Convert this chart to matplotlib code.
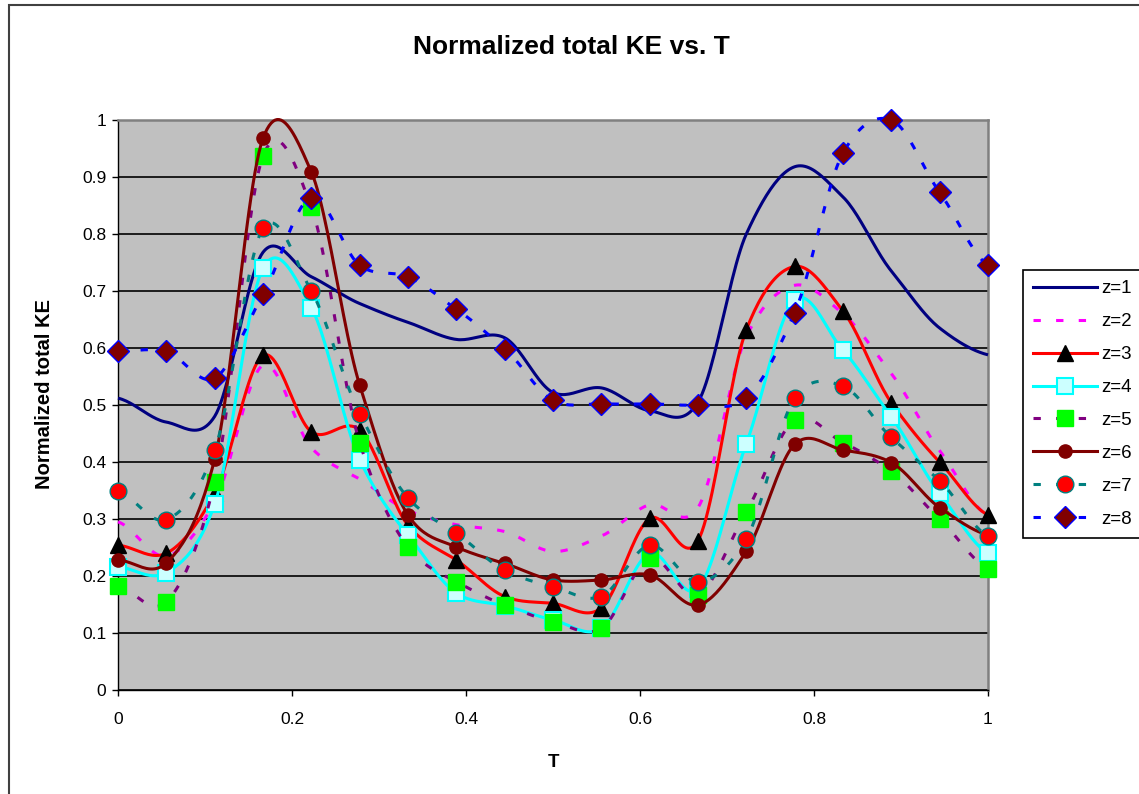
import numpy as np
import matplotlib
matplotlib.use("Agg")
import matplotlib.pyplot as plt
from matplotlib.lines import Line2D
from matplotlib.patches import Rectangle

plt.rcParams['font.family'] = ['Liberation Sans', 'DejaVu Sans']

# sample times (T) and normalized total KE for each z level
t = [0.0, 0.0556, 0.1111, 0.1667, 0.2222, 0.2778, 0.3333, 0.3889, 0.4444, 0.5,
     0.5556, 0.6111, 0.6667, 0.7222, 0.7778, 0.8333, 0.8889, 0.9444, 1.0]

z1 = [0.512, 0.47, 0.48, 0.768, 0.725, 0.678, 0.645, 0.615, 0.618, 0.522,
      0.53, 0.49, 0.505, 0.80, 0.918, 0.865, 0.735, 0.635, 0.588]
z2 = [0.295, 0.235, 0.33, 0.57, 0.425, 0.37, 0.315, 0.29, 0.278, 0.243,
      0.27, 0.325, 0.32, 0.62, 0.71, 0.66, 0.555, 0.42, 0.305]
z3 = [0.254, 0.24, 0.345, 0.587, 0.453, 0.456, 0.289, 0.228, 0.164, 0.152,
      0.144, 0.301, 0.262, 0.632, 0.743, 0.665, 0.504, 0.40, 0.307]
z4 = [0.216, 0.206, 0.326, 0.74, 0.671, 0.404, 0.272, 0.17, 0.148, 0.123,
      0.108, 0.24, 0.178, 0.432, 0.684, 0.596, 0.479, 0.345, 0.24]
z5 = [0.182, 0.155, 0.365, 0.937, 0.847, 0.434, 0.251, 0.19, 0.149, 0.12,
      0.108, 0.231, 0.167, 0.313, 0.474, 0.434, 0.384, 0.30, 0.213]
z6 = [0.228, 0.223, 0.405, 0.968, 0.909, 0.535, 0.307, 0.251, 0.222, 0.193,
      0.193, 0.202, 0.149, 0.243, 0.431, 0.421, 0.399, 0.32, 0.272]
z7 = [0.349, 0.299, 0.421, 0.81, 0.70, 0.485, 0.337, 0.275, 0.21, 0.181,
      0.164, 0.254, 0.19, 0.265, 0.512, 0.533, 0.443, 0.367, 0.27]
z8 = [0.594, 0.594, 0.547, 0.694, 0.864, 0.745, 0.725, 0.668, 0.599, 0.508,
      0.502, 0.502, 0.50, 0.512, 0.662, 0.942, 1.0, 0.873, 0.745]

labels = ['z=1', 'z=2', 'z=3', 'z=4', 'z=5', 'z=6', 'z=7', 'z=8']
series = [z1, z2, z3, z4, z5, z6, z7, z8]

DASH = (2.4, 5.0)
styles = [
    dict(color='#000080', dashes=None, marker=None),
    dict(color='#FF00FF', dashes=DASH, marker=None),
    dict(color='#FF0000', dashes=None, marker='^', ms=12, mfc='black', mec='black', mew=1),
    dict(color='#00FFFF', dashes=None, marker='s', ms=11, mfc='#CCFFFF', mec='#00FFFF', mew=1.5),
    dict(color='#800080', dashes=DASH, marker='s', ms=11, mfc='#00FF00', mec='#00FF00', mew=1),
    dict(color='#800000', dashes=None, marker='o', ms=9.5, mfc='#800000', mec='#800000', mew=1),
    dict(color='#008080', dashes=DASH, marker='o', ms=12, mfc='#FF0000', mec='#008080', mew=1),
    dict(color='#0000FF', dashes=DASH, marker='D', ms=11, mfc='#800000', mec='#0000FF', mew=1),
]
LW = 2.2


def smooth(xs, ys, n=24, k=0.45):
    """Cardinal-spline curve through the points, like a spreadsheet smoothed line."""
    x = np.asarray(xs, float)
    y = np.asarray(ys, float)
    m = np.empty_like(y)
    m[1:-1] = (y[2:] - y[:-2]) * k
    m[0] = (y[1] - y[0]) * k
    m[-1] = (y[-1] - y[-2]) * k
    s = np.linspace(0, 1, n, endpoint=False)
    h00 = 2 * s**3 - 3 * s**2 + 1
    h10 = s**3 - 2 * s**2 + s
    h01 = -2 * s**3 + 3 * s**2
    h11 = s**3 - s**2
    px, py = [], []
    for i in range(len(x) - 1):
        px.append(x[i] + s * (x[i + 1] - x[i]))
        py.append(h00 * y[i] + h10 * m[i] + h01 * y[i + 1] + h11 * m[i + 1])
    px.append([x[-1]])
    py.append([y[-1]])
    return np.concatenate(px), np.concatenate(py)


W, H = 1139, 794
fig = plt.figure(figsize=(W / 100, H / 100), dpi=100)
ax = fig.add_axes([118 / W, 1 - 690 / H, 870 / W, 570 / H])
ax.set_facecolor('#C0C0C0')

handles = []
for i, (vals, st) in enumerate(zip(series, styles)):
    sx, sy = smooth(t, vals)
    line_kw = dict(color=st['color'], lw=LW, zorder=3 + i, clip_on=False,
                   solid_capstyle='butt', dash_capstyle='butt')
    ln, = ax.plot(sx, sy, **line_kw)
    if st['dashes'] is not None:
        ln.set_dashes(st['dashes'])
    if st['marker']:
        ax.plot(t, vals, ls='none', marker=st['marker'], ms=st['ms'],
                mfc=st['mfc'], mec=st['mec'], mew=st['mew'],
                zorder=3 + i + 0.5, clip_on=False)
        h = Line2D([], [], color=st['color'], lw=LW, marker=st['marker'],
                   ms=st['ms'], mfc=st['mfc'], mec=st['mec'], mew=st['mew'])
    else:
        h = Line2D([], [], color=st['color'], lw=LW)
    if st['dashes'] is not None:
        h.set_dashes(st['dashes'])
    handles.append(h)

ax.set_xlim(0, 1)
ax.set_ylim(0, 1)
ax.set_xticks([0, 0.2, 0.4, 0.6, 0.8, 1.0])
ax.set_xticklabels(['0', '0.2', '0.4', '0.6', '0.8', '1'])
ax.set_yticks(np.arange(0, 1.01, 0.1))
ax.set_yticklabels(['0', '0.1', '0.2', '0.3', '0.4', '0.5', '0.6', '0.7', '0.8', '0.9', '1'])
ax.tick_params(direction='out', length=4.5, width=1, labelsize=12.5, colors='black', pad=4)
ax.tick_params(axis='x', pad=11)
ax.yaxis.grid(True, color='black', lw=1.2)
ax.set_axisbelow(True)

for side in ['left', 'bottom']:
    ax.spines[side].set_color('black')
    ax.spines[side].set_linewidth(1.0)
for side in ['top', 'right']:
    ax.spines[side].set_color('#808080')
    ax.spines[side].set_linewidth(1.8)

ax.set_xlabel('T', fontsize=13.5, fontweight='bold', labelpad=20)
ax.set_ylabel('Normalized total KE', fontsize=14.5, fontweight='bold', labelpad=3)
ax.yaxis.set_label_coords(-64 / 870, 0.52)
fig.text(571 / W, 1 - 47 / H, 'Normalized total KE vs. T', ha='center', va='center',
         fontsize=19, fontweight='bold')

leg = fig.legend(handles, labels, loc='upper left',
                 bbox_to_anchor=(1023 / W, 1 - 270 / H), borderaxespad=0,
                 frameon=True, fancybox=False, edgecolor='black', framealpha=1,
                 fontsize=13.5, handlelength=3.4, handletextpad=0.25,
                 labelspacing=0.84, borderpad=0.55, numpoints=1)
leg.get_frame().set_linewidth(1.2)

# chart area border
fig.patches.append(Rectangle((9 / W, -0.05), 1.1, 1 - 5 / H + 0.05,
                             transform=fig.transFigure, fill=False,
                             edgecolor='#404040', lw=1.5))

fig.savefig('out.png', dpi=100)
